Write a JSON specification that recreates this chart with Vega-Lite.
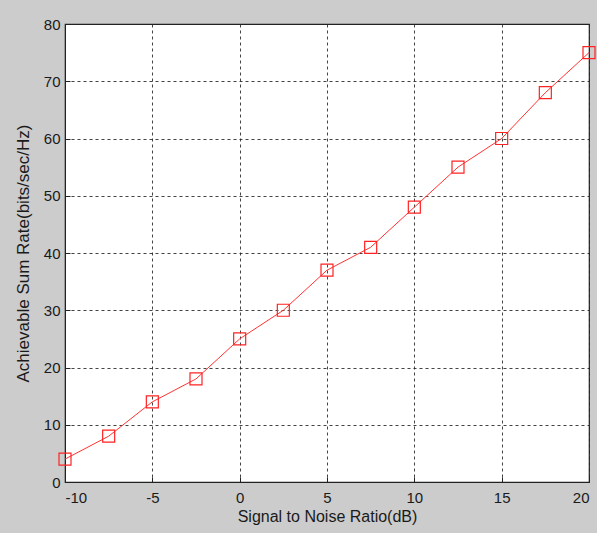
{
  "$schema": "https://vega.github.io/schema/vega-lite/v6.json",
  "width": 524,
  "height": 458,
  "autosize": {"type": "none"},
  "padding": {"left": 65, "top": 24, "right": 8, "bottom": 51},
  "background": "#cccccc",
  "config": {
    "view": {"fill": "white", "stroke": "#222222", "strokeWidth": 1.2},
    "font": "Liberation Sans",
    "axis": {
      "labelFont": "Liberation Sans",
      "titleFont": "Liberation Sans",
      "labelFontSize": 15,
      "titleFontSize": 16,
      "labelColor": "#1a1a1a",
      "titleColor": "#1a1a1a",
      "titleFontWeight": "normal",
      "domainColor": "#222222",
      "tickColor": "#222222",
      "tickSize": -5,
      "grid": true,
      "gridColor": "#222222",
      "gridDash": [3, 3],
      "gridOpacity": 0.85,
      "gridWidth": 1
    }
  },
  "data": {
    "values": [
      {"snr": -10, "rate": 4},
      {"snr": -7.5, "rate": 8},
      {"snr": -5, "rate": 14},
      {"snr": -2.5, "rate": 18},
      {"snr": 0, "rate": 25},
      {"snr": 2.5, "rate": 30},
      {"snr": 5, "rate": 37},
      {"snr": 7.5, "rate": 41},
      {"snr": 10, "rate": 48},
      {"snr": 12.5, "rate": 55},
      {"snr": 15, "rate": 60},
      {"snr": 17.5, "rate": 68},
      {"snr": 20, "rate": 75}
    ]
  },
  "encoding": {
    "x": {
      "field": "snr",
      "type": "quantitative",
      "scale": {"domain": [-10, 20], "nice": false, "zero": false},
      "axis": {"values": [-10, -5, 0, 5, 10, 15, 20], "labelExpr": "datum.value + ''", "title": "Signal to Noise Ratio(dB)", "titlePadding": 3, "labelPadding": 13}
    },
    "y": {
      "field": "rate",
      "type": "quantitative",
      "scale": {"domain": [0, 80], "nice": false},
      "axis": {"values": [0, 10, 20, 30, 40, 50, 60, 70, 80], "title": "Achievable Sum Rate(bits/sec/Hz)", "titleFontSize": 17, "titlePadding": 11, "labelPadding": 10}
    }
  },
  "layer": [
    {"mark": {"type": "line", "color": "#ff3333", "strokeWidth": 1}},
    {"mark": {"type": "point", "shape": "square", "filled": false, "color": "#ff2222", "size": 144, "strokeWidth": 1.2, "opacity": 1}}
  ]
}
